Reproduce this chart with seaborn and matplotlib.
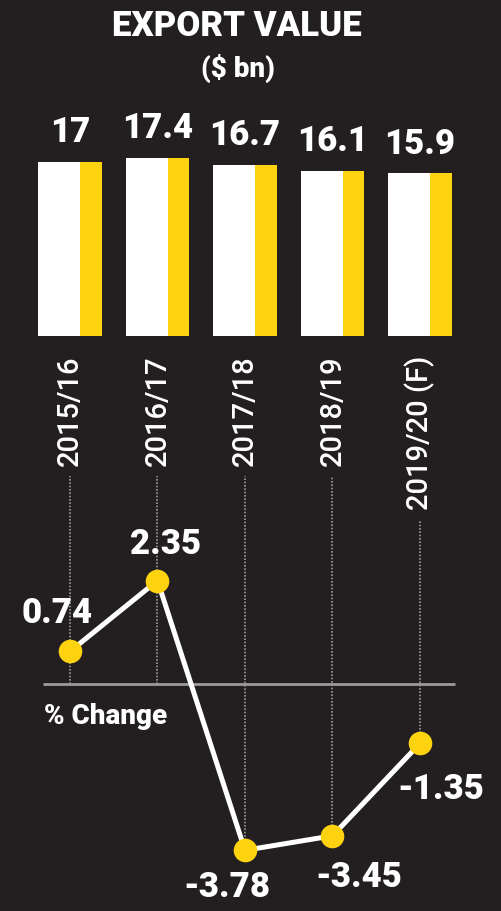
import numpy as np
import pandas as pd
import seaborn as sns
import matplotlib.pyplot as plt

# data
years = ['2015/16', '2016/17', '2017/18', '2018/19', '2019/20 (F)']
export_value = [17, 17.4, 16.7, 16.1, 15.9]
pct_change = [0.74, 2.35, -3.78, -3.45, -1.35]

BG = '#231f20'
YELLOW = '#fdd20e'
GREY = '#9b9b9b'

sns.set_style('white')
plt.rcParams['font.family'] = ['Roboto', 'DejaVu Sans']

W, H = 501, 911
fig = plt.figure(figsize=(W / 100, H / 100), dpi=100, facecolor=BG)

xlim = (-0.8, 4.926)

# ---- bar panel
ax_bar = fig.add_axes([0, (H - 336) / H, 1, 236 / H])
ax_bar.set_facecolor('none')
df_bar = pd.DataFrame({'year': years, 'value': export_value})
sns.barplot(data=df_bar, x='year', y='value', color=YELLOW, saturation=1,
            width=0.73, ax=ax_bar)
sns.barplot(data=df_bar, x='year', y='value', color='white', saturation=1,
            width=0.48, ax=ax_bar)
for p in ax_bar.patches[len(years):]:
    p.set_x(p.get_x() - 0.125)
for p in ax_bar.patches:
    p.set_linewidth(0)
ax_bar.bar_label(ax_bar.containers[0], fmt='%g', padding=9, color='white',
                 fontsize=25, fontweight='black')
ax_bar.set_xlim(*xlim)
ax_bar.set_ylim(0, 236 / 10.25)
ax_bar.set_xlabel('')
ax_bar.set_ylabel('')
ax_bar.set_yticks([])
ax_bar.tick_params(axis='x', length=0, pad=14)
for lab in ax_bar.get_xticklabels():
    lab.set_rotation(90)
    lab.set_color('white')
    lab.set_fontsize(21)
    lab.set_fontweight('medium')
    lab.set_va('top')
    lab.set_ha('center')
sns.despine(ax=ax_bar, left=True, bottom=True)

# ---- line panel
ax_line = fig.add_axes([0, 0, 1, 441 / H])
ax_line.set_facecolor('none')
xpos = np.arange(len(years))
ax_line.set_xlim(*xlim)
ax_line.set_ylim(-(H - 684) / 44, (684 - 470) / 44)
ax_line.hlines(0, -0.31, 4.4, color=GREY, lw=2, zorder=1)
ax_line.text(-0.3, -0.75, '% Change', color='white', fontsize=20,
             fontweight='black', va='center', ha='left')

sns.lineplot(x=xpos, y=pct_change, color='white', lw=3.6, marker='o',
             markersize=17, markerfacecolor=YELLOW, markeredgecolor=YELLOW,
             markeredgewidth=0, ax=ax_line, zorder=3)

offsets = [(-9, 27), (6, 26), (-13, -27), (19, -30), (15, -33)]
for x, y, off in zip(xpos, pct_change, offsets):
    ax_line.annotate(f'{y:.2f}', (x, y), xytext=off, textcoords='offset points',
                     ha='center', va='center', color='white', fontsize=25,
                     fontweight='black', zorder=4)

ax_line.set_xticks([])
ax_line.set_yticks([])
ax_line.set_xlabel('')
ax_line.set_ylabel('')
sns.despine(ax=ax_line, left=True, bottom=True)

# dotted guides from the bottom of each rotated label down to the point
fig.canvas.draw()
inv = ax_line.transData.inverted()
for lab, x, y in zip(ax_bar.get_xticklabels(), xpos, pct_change):
    bb = lab.get_window_extent()
    top = inv.transform((0, bb.y0 - 10))[1]
    ax_line.vlines(x, min(y, 0), top, color=GREY, lw=1.2,
                   linestyles=(0, (1, 1)), zorder=1)

# ---- titles
fig.text(0.473, (H - 27) / H, 'EXPORT VALUE', color='white', fontsize=25,
         fontweight='black', ha='center', va='center')
fig.text(0.475, (H - 68) / H, '($ bn)', color='white', fontsize=20,
         fontweight='black', ha='center', va='center')

fig.savefig('out.png', dpi=100, facecolor=BG)
